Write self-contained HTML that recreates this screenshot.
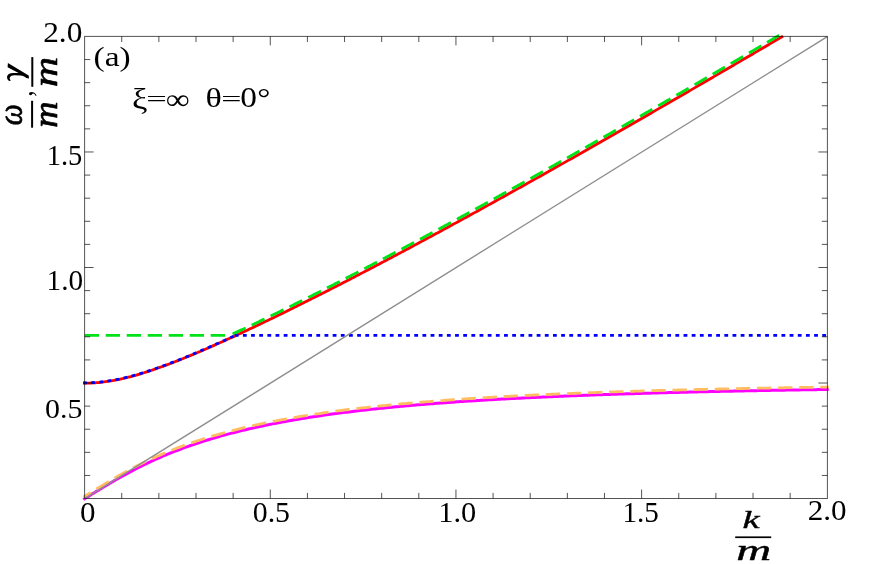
<!DOCTYPE html>
<html><head><meta charset="utf-8"><title>plot</title>
<style>html,body{margin:0;padding:0;background:#fff;}body{width:872px;height:564px;overflow:hidden;font-family:"Liberation Serif",serif;}svg{display:block;will-change:transform;}</style></head>
<body>
<svg width="872" height="564" viewBox="0 0 872 564">
<rect width="872" height="564" fill="#fff"/>
<g fill="none" stroke-linejoin="round">
<path d="M84.60,498.70 L86.46,497.54 L88.32,496.38 L90.18,495.23 L92.05,494.07 L93.91,492.92 L95.77,491.78 L97.63,490.63 L99.49,489.49 L101.35,488.36 L103.21,487.23 L105.08,486.11 L106.94,485.00 L108.80,483.89 L110.66,482.79 L112.52,481.70 L114.38,480.62 L116.24,479.55 L118.11,478.48 L119.97,477.43 L121.83,476.39 L123.69,475.35 L125.55,474.33 L127.41,473.32 L129.27,472.32 L131.14,471.33 L133.00,470.35 L134.86,469.38 L136.72,468.43 L138.58,467.48 L140.44,466.55 L142.30,465.63 L144.16,464.72 L146.03,463.82 L147.89,462.93 L149.75,462.06 L151.61,461.19 L153.47,460.34 L155.33,459.50 L157.19,458.67 L159.06,457.85 L160.92,457.04 L162.78,456.24 L164.64,455.45 L166.50,454.68 L168.36,453.91 L170.22,453.15 L172.09,452.41 L173.95,451.67 L175.81,450.95 L177.67,450.23 L179.53,449.52 L181.39,448.83 L183.25,448.14 L185.12,447.46 L186.98,446.79 L188.84,446.13 L190.70,445.48 L192.56,444.84 L194.42,444.21 L196.28,443.58 L198.15,442.97 L200.01,442.36 L201.87,441.76 L203.73,441.17 L205.59,440.58 L207.45,440.00 L209.31,439.44 L211.18,438.87 L213.04,438.32 L214.90,437.77 L216.76,437.23 L218.62,436.70 L220.48,436.18 L222.34,435.66 L224.21,435.15 L226.07,434.64 L227.93,434.14 L229.79,433.65 L231.65,433.16 L233.51,432.68 L235.37,432.21 L237.24,431.74 L239.10,431.28 L240.96,430.83 L242.82,430.38 L244.68,429.93 L246.54,429.49 L248.40,429.06 L250.26,428.63 L252.13,428.21 L253.99,427.79 L255.85,427.38 L257.71,426.97 L259.57,426.57 L261.43,426.17 L263.29,425.78 L265.16,425.39 L267.02,425.01 L268.88,424.63 L270.74,424.26 L272.60,423.89 L274.46,423.52 L276.32,423.16 L278.19,422.80 L280.05,422.45 L281.91,422.10 L283.77,421.76 L285.63,421.42 L287.49,421.09 L289.35,420.75 L291.22,420.43 L293.08,420.10 L294.94,419.78 L296.80,419.47 L298.66,419.15 L300.52,418.84 L302.38,418.54 L304.25,418.23 L306.11,417.94 L307.97,417.64 L309.83,417.35 L311.69,417.06 L313.55,416.77 L315.41,416.49 L317.28,416.21 L319.14,415.94 L321.00,415.66 L322.86,415.39 L324.72,415.13 L326.58,414.86 L328.44,414.60 L330.31,414.34 L332.17,414.09 L334.03,413.84 L335.89,413.59 L337.75,413.34 L339.61,413.10 L341.47,412.85 L343.34,412.62 L345.20,412.38 L347.06,412.14 L348.92,411.91 L350.78,411.68 L352.64,411.46 L354.50,411.23 L356.36,411.01 L358.23,410.79 L360.09,410.58 L361.95,410.36 L363.81,410.15 L365.67,409.94 L367.53,409.73 L369.39,409.53 L371.26,409.32 L373.12,409.12 L374.98,408.92 L376.84,408.72 L378.70,408.53 L380.56,408.34 L382.42,408.14 L384.29,407.95 L386.15,407.77 L388.01,407.58 L389.87,407.40 L391.73,407.22 L393.59,407.04 L395.45,406.86 L397.32,406.68 L399.18,406.51 L401.04,406.34 L402.90,406.16 L404.76,406.00 L406.62,405.83 L408.48,405.66 L410.35,405.50 L412.21,405.33 L414.07,405.17 L415.93,405.01 L417.79,404.86 L419.65,404.70 L421.51,404.55 L423.38,404.39 L425.24,404.24 L427.10,404.09 L428.96,403.94 L430.82,403.79 L432.68,403.65 L434.54,403.50 L436.41,403.36 L438.27,403.22 L440.13,403.08 L441.99,402.94 L443.85,402.80 L445.71,402.66 L447.57,402.53 L449.44,402.40 L451.30,402.26 L453.16,402.13 L455.02,402.00 L456.88,401.87 L458.74,401.75 L460.60,401.62 L462.46,401.49 L464.33,401.37 L466.19,401.25 L468.05,401.12 L469.91,401.00 L471.77,400.88 L473.63,400.77 L475.49,400.65 L477.36,400.53 L479.22,400.42 L481.08,400.30 L482.94,400.19 L484.80,400.08 L486.66,399.97 L488.52,399.86 L490.39,399.75 L492.25,399.64 L494.11,399.53 L495.97,399.42 L497.83,399.32 L499.69,399.22 L501.55,399.11 L503.42,399.01 L505.28,398.91 L507.14,398.81 L509.00,398.71 L510.86,398.61 L512.72,398.51 L514.58,398.41 L516.45,398.32 L518.31,398.22 L520.17,398.13 L522.03,398.03 L523.89,397.94 L525.75,397.85 L527.61,397.76 L529.48,397.67 L531.34,397.58 L533.20,397.49 L535.06,397.40 L536.92,397.31 L538.78,397.22 L540.64,397.14 L542.51,397.05 L544.37,396.97 L546.23,396.88 L548.09,396.80 L549.95,396.72 L551.81,396.64 L553.67,396.56 L555.54,396.48 L557.40,396.40 L559.26,396.32 L561.12,396.24 L562.98,396.16 L564.84,396.08 L566.70,396.01 L568.56,395.93 L570.43,395.86 L572.29,395.78 L574.15,395.71 L576.01,395.63 L577.87,395.56 L579.73,395.49 L581.59,395.42 L583.46,395.35 L585.32,395.28 L587.18,395.21 L589.04,395.14 L590.90,395.07 L592.76,395.00 L594.62,394.93 L596.49,394.87 L598.35,394.80 L600.21,394.73 L602.07,394.67 L603.93,394.60 L605.79,394.54 L607.65,394.47 L609.52,394.41 L611.38,394.35 L613.24,394.29 L615.10,394.22 L616.96,394.16 L618.82,394.10 L620.68,394.04 L622.55,393.98 L624.41,393.92 L626.27,393.86 L628.13,393.80 L629.99,393.75 L631.85,393.69 L633.71,393.63 L635.58,393.57 L637.44,393.52 L639.30,393.46 L641.16,393.41 L643.02,393.35 L644.88,393.30 L646.74,393.24 L648.61,393.19 L650.47,393.13 L652.33,393.08 L654.19,393.03 L656.05,392.98 L657.91,392.92 L659.77,392.87 L661.64,392.82 L663.50,392.77 L665.36,392.72 L667.22,392.67 L669.08,392.62 L670.94,392.57 L672.80,392.52 L674.66,392.47 L676.53,392.43 L678.39,392.38 L680.25,392.33 L682.11,392.28 L683.97,392.24 L685.83,392.19 L687.69,392.14 L689.56,392.10 L691.42,392.05 L693.28,392.01 L695.14,391.96 L697.00,391.92 L698.86,391.87 L700.72,391.83 L702.59,391.79 L704.45,391.74 L706.31,391.70 L708.17,391.66 L710.03,391.62 L711.89,391.57 L713.75,391.53 L715.62,391.49 L717.48,391.45 L719.34,391.41 L721.20,391.37 L723.06,391.33 L724.92,391.29 L726.78,391.25 L728.65,391.21 L730.51,391.17 L732.37,391.13 L734.23,391.09 L736.09,391.05 L737.95,391.02 L739.81,390.98 L741.68,390.94 L743.54,390.90 L745.40,390.87 L747.26,390.83 L749.12,390.79 L750.98,390.76 L752.84,390.72 L754.71,390.69 L756.57,390.65 L758.43,390.61 L760.29,390.58 L762.15,390.54 L764.01,390.51 L765.87,390.48 L767.74,390.44 L769.60,390.41 L771.46,390.37 L773.32,390.34 L775.18,390.31 L777.04,390.27 L778.90,390.24 L780.76,390.21 L782.63,390.18 L784.49,390.14 L786.35,390.11 L788.21,390.08 L790.07,390.05 L791.93,390.02 L793.79,389.99 L795.66,389.96 L797.52,389.93 L799.38,389.89 L801.24,389.86 L803.10,389.83 L804.96,389.80 L806.82,389.77 L808.69,389.75 L810.55,389.72 L812.41,389.69 L814.27,389.66 L816.13,389.63 L817.99,389.60 L819.85,389.57 L821.72,389.54 L823.58,389.52 L825.44,389.49 L827.30,389.46" stroke="#ff00ff" stroke-width="3.00" stroke-linecap="square"/>
<path d="M83.10,383.17 L84.60,383.17 L86.35,383.16 L88.10,383.13 L89.85,383.08 L91.60,383.01 L93.35,382.92 L95.09,382.81 L96.84,382.68 L98.59,382.52 L100.34,382.35 L102.09,382.16 L103.84,381.95 L105.59,381.73 L107.34,381.48 L109.09,381.22 L110.84,380.93 L112.59,380.63 L114.34,380.32 L116.08,379.99 L117.83,379.64 L119.58,379.27 L121.33,378.89 L123.08,378.50 L124.83,378.09 L126.58,377.66 L128.33,377.23 L130.08,376.78 L131.83,376.31 L133.58,375.84 L135.32,375.35 L137.07,374.85 L138.82,374.34 L140.57,373.81 L142.32,373.28 L144.07,372.74 L145.82,372.18 L147.57,371.62 L149.32,371.05 L151.07,370.46 L152.82,369.87 L154.56,369.28 L156.31,368.67 L158.06,368.05 L159.81,367.43 L161.56,366.80 L163.31,366.16 L165.06,365.52 L166.81,364.87 L168.56,364.21 L170.31,363.54 L172.06,362.87 L173.81,362.20 L175.55,361.52 L177.30,360.83 L179.05,360.14 L180.80,359.44 L182.55,358.73 L184.30,358.03 L186.05,357.31 L187.80,356.60 L189.55,355.87 L191.30,355.15 L193.05,354.42 L194.79,353.68 L196.54,352.94 L198.29,352.20 L200.04,351.46 L201.79,350.71 L203.54,349.95 L205.29,349.20 L207.04,348.43 L208.79,347.67 L210.54,346.90 L212.29,346.13 L214.04,345.36 L215.78,344.58 L217.53,343.81 L219.28,343.02 L221.03,342.24 L222.78,341.45 L224.53,340.66 L226.28,339.87 L228.03,339.07 L229.78,338.27 L231.53,337.47 L233.28,336.67 L235.02,335.87 L236.77,335.06 L238.52,334.25 L240.27,333.44 L242.02,332.62 L243.77,331.81 L245.52,330.99 L247.27,330.17 L249.02,329.35 L250.77,328.52 L252.52,327.70 L254.26,326.87 L256.01,326.04 L257.76,325.20 L259.51,324.37 L261.26,323.53 L263.01,322.70 L264.76,321.86 L266.51,321.02 L268.26,320.17 L270.01,319.33 L271.76,318.48 L273.51,317.64 L275.25,316.79 L277.00,315.94 L278.75,315.08 L280.50,314.23 L282.25,313.37 L284.00,312.52 L285.75,311.66 L287.50,310.80 L289.25,309.94 L291.00,309.07 L292.75,308.21 L294.49,307.34 L296.24,306.48 L297.99,305.61 L299.74,304.74 L301.49,303.87 L303.24,303.00 L304.99,302.12 L306.74,301.25 L308.49,300.37 L310.24,299.49 L311.99,298.61 L313.74,297.73 L315.48,296.85 L317.23,295.97 L318.98,295.09 L320.73,294.20 L322.48,293.32 L324.23,292.43 L325.98,291.54 L327.73,290.65 L329.48,289.76 L331.23,288.87 L332.98,287.97 L334.72,287.08 L336.47,286.19 L338.22,285.29 L339.97,284.39 L341.72,283.49 L343.47,282.59 L345.22,281.69 L346.97,280.79 L348.72,279.89 L350.47,278.99 L352.22,278.08 L353.96,277.17 L355.71,276.27 L357.46,275.36 L359.21,274.45 L360.96,273.54 L362.71,272.63 L364.46,271.72 L366.21,270.81 L367.96,269.89 L369.71,268.98 L371.46,268.06 L373.21,267.15 L374.95,266.23 L376.70,265.31 L378.45,264.39 L380.20,263.47 L381.95,262.55 L383.70,261.63 L385.45,260.71 L387.20,259.78 L388.95,258.86 L390.70,257.93 L392.45,257.01 L394.19,256.08 L395.94,255.15 L397.69,254.23 L399.44,253.30 L401.19,252.37 L402.94,251.43 L404.69,250.50 L406.44,249.57 L408.19,248.64 L409.94,247.70 L411.69,246.77 L413.44,245.83 L415.18,244.89 L416.93,243.96 L418.68,243.02 L420.43,242.08 L422.18,241.14 L423.93,240.20 L425.68,239.26 L427.43,238.31 L429.18,237.37 L430.93,236.43 L432.68,235.48 L434.42,234.54 L436.17,233.59 L437.92,232.65 L439.67,231.70 L441.42,230.75 L443.17,229.80 L444.92,228.85 L446.67,227.90 L448.42,226.95 L450.17,226.00 L451.92,225.05 L453.66,224.10 L455.41,223.14 L457.16,222.19 L458.91,221.23 L460.66,220.28 L462.41,219.32 L464.16,218.36 L465.91,217.41 L467.66,216.45 L469.41,215.49 L471.16,214.53 L472.91,213.57 L474.65,212.61 L476.40,211.65 L478.15,210.69 L479.90,209.72 L481.65,208.76 L483.40,207.80 L485.15,206.83 L486.90,205.87 L488.65,204.90 L490.40,203.94 L492.15,202.97 L493.89,202.00 L495.64,201.03 L497.39,200.07 L499.14,199.10 L500.89,198.13 L502.64,197.16 L504.39,196.19 L506.14,195.22 L507.89,194.24 L509.64,193.27 L511.39,192.30 L513.14,191.32 L514.88,190.35 L516.63,189.38 L518.38,188.40 L520.13,187.42 L521.88,186.45 L523.63,185.47 L525.38,184.49 L527.13,183.52 L528.88,182.54 L530.63,181.56 L532.38,180.58 L534.12,179.60 L535.87,178.62 L537.62,177.64 L539.37,176.66 L541.12,175.67 L542.87,174.69 L544.62,173.71 L546.37,172.73 L548.12,171.74 L549.87,170.76 L551.62,169.77 L553.36,168.79 L555.11,167.80 L556.86,166.81 L558.61,165.83 L560.36,164.84 L562.11,163.85 L563.86,162.86 L565.61,161.88 L567.36,160.89 L569.11,159.90 L570.86,158.91 L572.61,157.92 L574.35,156.93 L576.10,155.93 L577.85,154.94 L579.60,153.95 L581.35,152.96 L583.10,151.97 L584.85,150.97 L586.60,149.98 L588.35,148.98 L590.10,147.99 L591.85,146.99 L593.59,146.00 L595.34,145.00 L597.09,144.00 L598.84,143.01 L600.59,142.01 L602.34,141.01 L604.09,140.01 L605.84,139.02 L607.59,138.02 L609.34,137.02 L611.09,136.02 L612.84,135.02 L614.58,134.02 L616.33,133.02 L618.08,132.02 L619.83,131.01 L621.58,130.01 L623.33,129.01 L625.08,128.01 L626.83,127.00 L628.58,126.00 L630.33,125.00 L632.08,123.99 L633.82,122.99 L635.57,121.98 L637.32,120.98 L639.07,119.97 L640.82,118.96 L642.57,117.96 L644.32,116.95 L646.07,115.94 L647.82,114.94 L649.57,113.93 L651.32,112.92 L653.06,111.91 L654.81,110.90 L656.56,109.89 L658.31,108.88 L660.06,107.88 L661.81,106.86 L663.56,105.85 L665.31,104.84 L667.06,103.83 L668.81,102.82 L670.56,101.81 L672.31,100.80 L674.05,99.78 L675.80,98.77 L677.55,97.76 L679.30,96.74 L681.05,95.73 L682.80,94.72 L684.55,93.70 L686.30,92.69 L688.05,91.67 L689.80,90.66 L691.55,89.64 L693.29,88.63 L695.04,87.61 L696.79,86.59 L698.54,85.58 L700.29,84.56 L702.04,83.54 L703.79,82.52 L705.54,81.51 L707.29,80.49 L709.04,79.47 L710.79,78.45 L712.54,77.43 L714.28,76.41 L716.03,75.39 L717.78,74.37 L719.53,73.35 L721.28,72.33 L723.03,71.31 L724.78,70.29 L726.53,69.27 L728.28,68.25 L730.03,67.22 L731.78,66.20 L733.52,65.18 L735.27,64.16 L737.02,63.13 L738.77,62.11 L740.52,61.09 L742.27,60.06 L744.02,59.04 L745.77,58.02 L747.52,56.99 L749.27,55.97 L751.02,54.94 L752.76,53.92 L754.51,52.89 L756.26,51.87 L758.01,50.84 L759.76,49.81 L761.51,48.79 L763.26,47.76 L765.01,46.73 L766.76,45.71 L768.51,44.68 L770.26,43.65 L772.01,42.62 L773.75,41.59 L775.50,40.57 L777.25,39.54 L779.00,38.51 L780.75,37.48 L782.50,36.45 L783.02,36.15" stroke="#ff0000" stroke-width="2.80"/>
<path d="M83.10,335.32 L229.74,335.32" stroke="#00e218" stroke-width="2.85" stroke-dasharray="14.3 6.7" stroke-dashoffset="-1.60"/>
<path d="M229.74,335.32 L229.81,335.29 L230.86,334.81 L231.92,334.32 L232.98,333.84 L234.04,333.35 L235.10,332.86 L236.16,332.37 L237.21,331.88 L238.27,331.39 L239.33,330.90 L240.39,330.41 L241.45,329.91 L242.50,329.42 L243.56,328.92 L244.62,328.43 L245.68,327.93 L246.74,327.43 L247.80,326.94 L248.85,326.44 L249.91,325.94 L250.97,325.44 L252.03,324.94 L253.09,324.44 L254.15,323.93 L255.20,323.43 L256.26,322.93 L257.32,322.42 L258.38,321.92 L259.44,321.41 L260.50,320.91 L261.56,320.40 L262.61,319.89 L263.67,319.38 L264.73,318.88 L265.79,318.37 L266.85,317.86 L267.91,317.35 L268.97,316.83 L270.02,316.32 L271.08,315.81 L272.14,315.30 L273.20,314.78 L274.26,314.27 L275.32,313.75 L276.38,313.24 L277.43,312.72 L278.49,312.21 L279.55,311.69 L280.61,311.17 L281.67,310.65 L282.73,310.13 L283.79,309.61 L284.85,309.09 L285.90,308.57 L286.96,308.05 L288.02,307.53 L289.08,307.01 L290.14,306.49 L291.20,305.96 L292.26,305.44 L293.32,304.92 L294.37,304.39 L295.43,303.87 L296.49,303.34 L297.55,302.81 L298.61,302.29 L299.67,301.76 L300.73,301.23 L301.79,300.70 L302.84,300.18 L303.90,299.65 L304.96,299.12 L306.02,298.59 L307.08,298.06 L308.14,297.52 L309.20,296.99 L310.26,296.46 L311.32,295.93 L312.37,295.40 L313.43,294.86 L314.49,294.33 L315.55,293.79 L316.61,293.26 L317.67,292.73 L318.73,292.19 L319.79,291.65 L320.85,291.12 L321.90,290.58 L322.96,290.04 L324.02,289.51 L325.08,288.97 L326.14,288.43 L327.20,287.89 L328.26,287.35 L329.32,286.81 L330.38,286.27 L331.44,285.73 L332.49,285.19 L333.55,284.65 L334.61,284.10 L335.67,283.56 L336.73,283.02 L337.79,282.48 L338.85,281.93 L339.91,281.39 L340.97,280.85 L342.03,280.30 L343.08,279.76 L344.14,279.21 L345.20,278.66 L346.26,278.12 L347.32,277.57 L348.38,277.02 L349.44,276.48 L350.50,275.93 L351.56,275.38 L352.62,274.83 L353.68,274.28 L354.73,273.73 L355.79,273.19 L356.85,272.64 L357.91,272.09 L358.97,271.53 L360.03,270.98 L361.09,270.43 L362.15,269.88 L363.21,269.33 L364.27,268.78 L365.32,268.22 L366.38,267.67 L367.44,267.12 L368.50,266.56 L369.56,266.01 L370.62,265.45 L371.68,264.90 L372.74,264.34 L373.80,263.79 L374.86,263.23 L375.92,262.68 L376.98,262.12 L378.03,261.56 L379.09,261.01 L380.15,260.45 L381.21,259.89 L382.27,259.33 L383.33,258.77 L384.39,258.21 L385.45,257.66 L386.51,257.10 L387.57,256.54 L388.63,255.98 L389.68,255.42 L390.74,254.85 L391.80,254.29 L392.86,253.73 L393.92,253.17 L394.98,252.61 L396.04,252.05 L397.10,251.48 L398.16,250.92 L399.22,250.36 L400.28,249.79 L401.34,249.23 L402.40,248.67 L403.45,248.10 L404.51,247.54 L405.57,246.97 L406.63,246.41 L407.69,245.84 L408.75,245.27 L409.81,244.71 L410.87,244.14 L411.93,243.57 L412.99,243.01 L414.05,242.44 L415.11,241.87 L416.16,241.30 L417.22,240.74 L418.28,240.17 L419.34,239.60 L420.40,239.03 L421.46,238.46 L422.52,237.89 L423.58,237.32 L424.64,236.75 L425.70,236.18 L426.76,235.61 L427.82,235.04 L428.88,234.47 L429.93,233.89 L430.99,233.32 L432.05,232.75 L433.11,232.18 L434.17,231.61 L435.23,231.03 L436.29,230.46 L437.35,229.89 L438.41,229.31 L439.47,228.74 L440.53,228.16 L441.59,227.59 L442.65,227.01 L443.71,226.44 L444.76,225.86 L445.82,225.29 L446.88,224.71 L447.94,224.14 L449.00,223.56 L450.06,222.98 L451.12,222.41 L452.18,221.83 L453.24,221.25 L454.30,220.68 L455.36,220.10 L456.42,219.52 L457.48,218.94 L458.54,218.36 L459.59,217.78 L460.65,217.20 L461.71,216.63 L462.77,216.05 L463.83,215.47 L464.89,214.89 L465.95,214.31 L467.01,213.73 L468.07,213.15 L469.13,212.56 L470.19,211.98 L471.25,211.40 L472.31,210.82 L473.37,210.24 L474.42,209.66 L475.48,209.07 L476.54,208.49 L477.60,207.91 L478.66,207.33 L479.72,206.74 L480.78,206.16 L481.84,205.57 L482.90,204.99 L483.96,204.41 L485.02,203.82 L486.08,203.24 L487.14,202.65 L488.20,202.07 L489.26,201.48 L490.31,200.90 L491.37,200.31 L492.43,199.73 L493.49,199.14 L494.55,198.55 L495.61,197.97 L496.67,197.38 L497.73,196.79 L498.79,196.21 L499.85,195.62 L500.91,195.03 L501.97,194.44 L503.03,193.85 L504.09,193.27 L505.15,192.68 L506.21,192.09 L507.26,191.50 L508.32,190.91 L509.38,190.32 L510.44,189.73 L511.50,189.14 L512.56,188.55 L513.62,187.96 L514.68,187.37 L515.74,186.78 L516.80,186.19 L517.86,185.60 L518.92,185.01 L519.98,184.42 L521.04,183.83 L522.10,183.24 L523.16,182.64 L524.21,182.05 L525.27,181.46 L526.33,180.87 L527.39,180.27 L528.45,179.68 L529.51,179.09 L530.57,178.50 L531.63,177.90 L532.69,177.31 L533.75,176.71 L534.81,176.12 L535.87,175.53 L536.93,174.93 L537.99,174.34 L539.05,173.74 L540.11,173.15 L541.17,172.55 L542.22,171.96 L543.28,171.36 L544.34,170.77 L545.40,170.17 L546.46,169.58 L547.52,168.98 L548.58,168.38 L549.64,167.79 L550.70,167.19 L551.76,166.59 L552.82,166.00 L553.88,165.40 L554.94,164.80 L556.00,164.20 L557.06,163.61 L558.12,163.01 L559.18,162.41 L560.23,161.81 L561.29,161.21 L562.35,160.61 L563.41,160.02 L564.47,159.42 L565.53,158.82 L566.59,158.22 L567.65,157.62 L568.71,157.02 L569.77,156.42 L570.83,155.82 L571.89,155.22 L572.95,154.62 L574.01,154.02 L575.07,153.42 L576.13,152.82 L577.19,152.22 L578.25,151.62 L579.30,151.01 L580.36,150.41 L581.42,149.81 L582.48,149.21 L583.54,148.61 L584.60,148.01 L585.66,147.40 L586.72,146.80 L587.78,146.20 L588.84,145.60 L589.90,144.99 L590.96,144.39 L592.02,143.79 L593.08,143.18 L594.14,142.58 L595.20,141.98 L596.26,141.37 L597.32,140.77 L598.37,140.17 L599.43,139.56 L600.49,138.96 L601.55,138.35 L602.61,137.75 L603.67,137.14 L604.73,136.54 L605.79,135.93 L606.85,135.33 L607.91,134.72 L608.97,134.12 L610.03,133.51 L611.09,132.91 L612.15,132.30 L613.21,131.69 L614.27,131.09 L615.33,130.48 L616.39,129.88 L617.45,129.27 L618.50,128.66 L619.56,128.06 L620.62,127.45 L621.68,126.84 L622.74,126.23 L623.80,125.63 L624.86,125.02 L625.92,124.41 L626.98,123.80 L628.04,123.20 L629.10,122.59 L630.16,121.98 L631.22,121.37 L632.28,120.76 L633.34,120.15 L634.40,119.54 L635.46,118.94 L636.52,118.33 L637.58,117.72 L638.64,117.11 L639.69,116.50 L640.75,115.89 L641.81,115.28 L642.87,114.67 L643.93,114.06 L644.99,113.45 L646.05,112.84 L647.11,112.23 L648.17,111.62 L649.23,111.01 L650.29,110.40 L651.35,109.79 L652.41,109.17 L653.47,108.56 L654.53,107.95 L655.59,107.34 L656.65,106.73 L657.71,106.12 L658.77,105.51 L659.83,104.89 L660.89,104.28 L661.94,103.67 L663.00,103.06 L664.06,102.44 L665.12,101.83 L666.18,101.22 L667.24,100.61 L668.30,99.99 L669.36,99.38 L670.42,98.77 L671.48,98.15 L672.54,97.54 L673.60,96.93 L674.66,96.31 L675.72,95.70 L676.78,95.09 L677.84,94.47 L678.90,93.86 L679.96,93.24 L681.02,92.63 L682.08,92.02 L683.13,91.40 L684.19,90.79 L685.25,90.17 L686.31,89.56 L687.37,88.94 L688.43,88.33 L689.49,87.71 L690.55,87.10 L691.61,86.48 L692.67,85.87 L693.73,85.25 L694.79,84.63 L695.85,84.02 L696.91,83.40 L697.97,82.79 L699.03,82.17 L700.09,81.55 L701.15,80.94 L702.21,80.32 L703.27,79.70 L704.33,79.09 L705.39,78.47 L706.44,77.85 L707.50,77.24 L708.56,76.62 L709.62,76.00 L710.68,75.39 L711.74,74.77 L712.80,74.15 L713.86,73.53 L714.92,72.92 L715.98,72.30 L717.04,71.68 L718.10,71.06 L719.16,70.44 L720.22,69.82 L721.28,69.21 L722.34,68.59 L723.40,67.97 L724.46,67.35 L725.52,66.73 L726.58,66.11 L727.64,65.49 L728.70,64.88 L729.75,64.26 L730.81,63.64 L731.87,63.02 L732.93,62.40 L733.99,61.78 L735.05,61.16 L736.11,60.54 L737.17,59.92 L738.23,59.30 L739.29,58.68 L740.35,58.06 L741.41,57.44 L742.47,56.82 L743.53,56.20 L744.59,55.58 L745.65,54.96 L746.71,54.34 L747.77,53.72 L748.83,53.09 L749.89,52.47 L750.95,51.85 L752.01,51.23 L753.07,50.61 L754.12,49.99 L755.18,49.37 L756.24,48.75 L757.30,48.12 L758.36,47.50 L759.42,46.88 L760.48,46.26 L761.54,45.64 L762.60,45.02 L763.66,44.39 L764.72,43.77 L765.78,43.15 L766.84,42.53 L767.90,41.90 L768.96,41.28 L770.02,40.66 L771.08,40.04 L772.14,39.41 L773.20,38.79 L774.26,38.17 L775.32,37.54 L776.38,36.92 L777.18,36.45 L779.16,35.28" stroke="#00e218" stroke-width="2.85" stroke-dasharray="14.3 6.7" stroke-dashoffset="17.84"/>
<path d="M83.33,497.09 L84.60,496.30 L86.46,495.14 L88.32,493.98 L90.18,492.83 L92.05,491.67 L93.91,490.52 L95.77,489.38 L97.63,488.23 L99.49,487.09 L101.35,485.96 L103.21,484.83 L105.08,483.71 L106.94,482.60 L108.80,481.49 L110.66,480.39 L112.52,479.30 L114.38,478.22 L116.24,477.15 L118.11,476.08 L119.97,475.03 L121.83,473.99 L123.69,472.95 L125.55,471.93 L127.41,470.92 L129.27,469.92 L131.14,468.93 L133.00,467.95 L134.86,466.98 L136.72,466.03 L138.58,465.08 L140.44,464.15 L142.30,463.23 L144.16,462.32 L146.03,461.42 L147.89,460.53 L149.75,459.66 L151.61,458.79 L153.47,457.94 L155.33,457.10 L157.19,456.27 L159.06,455.45 L160.92,454.64 L162.78,453.84 L164.64,453.05 L166.50,452.28 L168.36,451.51 L170.22,450.75 L172.09,450.01 L173.95,449.27 L175.81,448.55 L177.67,447.83 L179.53,447.12 L181.39,446.43 L183.25,445.74 L185.12,445.06 L186.98,444.39 L188.84,443.73 L190.70,443.08 L192.56,442.44 L194.42,441.81 L196.28,441.18 L198.15,440.57 L200.01,439.96 L201.87,439.36 L203.73,438.77 L205.59,438.18 L207.45,437.60 L209.31,437.04 L211.18,436.47 L213.04,435.92 L214.90,435.37 L216.76,434.83 L218.62,434.30 L220.48,433.78 L222.34,433.26 L224.21,432.75 L226.07,432.24 L227.93,431.74 L229.79,431.25 L231.65,430.76 L233.51,430.28 L235.37,429.81 L237.24,429.34 L239.10,428.88 L240.96,428.43 L242.82,427.98 L244.68,427.53 L246.54,427.09 L248.40,426.66 L250.26,426.23 L252.13,425.81 L253.99,425.39 L255.85,424.98 L257.71,424.57 L259.57,424.17 L261.43,423.77 L263.29,423.38 L265.16,422.99 L267.02,422.61 L268.88,422.23 L270.74,421.86 L272.60,421.49 L274.46,421.12 L276.32,420.76 L278.19,420.40 L280.05,420.05 L281.91,419.70 L283.77,419.36 L285.63,419.02 L287.49,418.69 L289.35,418.35 L291.22,418.03 L293.08,417.70 L294.94,417.38 L296.80,417.07 L298.66,416.75 L300.52,416.44 L302.38,416.14 L304.25,415.83 L306.11,415.54 L307.97,415.24 L309.83,414.95 L311.69,414.66 L313.55,414.37 L315.41,414.09 L317.28,413.81 L319.14,413.54 L321.00,413.26 L322.86,412.99 L324.72,412.73 L326.58,412.46 L328.44,412.20 L330.31,411.94 L332.17,411.69 L334.03,411.44 L335.89,411.19 L337.75,410.94 L339.61,410.70 L341.47,410.45 L343.34,410.22 L345.20,409.98 L347.06,409.74 L348.92,409.51 L350.78,409.28 L352.64,409.06 L354.50,408.83 L356.36,408.61 L358.23,408.39 L360.09,408.18 L361.95,407.96 L363.81,407.75 L365.67,407.54 L367.53,407.33 L369.39,407.13 L371.26,406.92 L373.12,406.72 L374.98,406.52 L376.84,406.32 L378.70,406.13 L380.56,405.94 L382.42,405.74 L384.29,405.55 L386.15,405.37 L388.01,405.18 L389.87,405.00 L391.73,404.82 L393.59,404.64 L395.45,404.46 L397.32,404.28 L399.18,404.11 L401.04,403.94 L402.90,403.76 L404.76,403.60 L406.62,403.43 L408.48,403.26 L410.35,403.10 L412.21,402.93 L414.07,402.77 L415.93,402.61 L417.79,402.46 L419.65,402.30 L421.51,402.15 L423.38,401.99 L425.24,401.84 L427.10,401.69 L428.96,401.54 L430.82,401.39 L432.68,401.25 L434.54,401.10 L436.41,400.96 L438.27,400.82 L440.13,400.68 L441.99,400.54 L443.85,400.40 L445.71,400.26 L447.57,400.13 L449.44,400.00 L451.30,399.86 L453.16,399.73 L455.02,399.60 L456.88,399.47 L458.74,399.35 L460.60,399.22 L462.46,399.09 L464.33,398.97 L466.19,398.85 L468.05,398.72 L469.91,398.60 L471.77,398.48 L473.63,398.37 L475.49,398.25 L477.36,398.13 L479.22,398.02 L481.08,397.90 L482.94,397.79 L484.80,397.68 L486.66,397.57 L488.52,397.46 L490.39,397.35 L492.25,397.24 L494.11,397.13 L495.97,397.02 L497.83,396.92 L499.69,396.82 L501.55,396.71 L503.42,396.61 L505.28,396.51 L507.14,396.41 L509.00,396.31 L510.86,396.21 L512.72,396.11 L514.58,396.01 L516.45,395.92 L518.31,395.82 L520.17,395.73 L522.03,395.63 L523.89,395.54 L525.75,395.45 L527.61,395.36 L529.48,395.27 L531.34,395.18 L533.20,395.09 L535.06,395.00 L536.92,394.91 L538.78,394.82 L540.64,394.74 L542.51,394.65 L544.37,394.57 L546.23,394.48 L548.09,394.40 L549.95,394.32 L551.81,394.24 L553.67,394.16 L555.54,394.08 L557.40,394.00 L559.26,393.92 L561.12,393.84 L562.98,393.76 L564.84,393.68 L566.70,393.61 L568.56,393.53 L570.43,393.46 L572.29,393.38 L574.15,393.31 L576.01,393.23 L577.87,393.16 L579.73,393.09 L581.59,393.02 L583.46,392.95 L585.32,392.88 L587.18,392.81 L589.04,392.74 L590.90,392.67 L592.76,392.60 L594.62,392.53 L596.49,392.47 L598.35,392.40 L600.21,392.33 L602.07,392.27 L603.93,392.20 L605.79,392.14 L607.65,392.07 L609.52,392.01 L611.38,391.95 L613.24,391.89 L615.10,391.82 L616.96,391.76 L618.82,391.70 L620.68,391.64 L622.55,391.58 L624.41,391.52 L626.27,391.46 L628.13,391.40 L629.99,391.35 L631.85,391.29 L633.71,391.23 L635.58,391.17 L637.44,391.12 L639.30,391.06 L641.16,391.01 L643.02,390.95 L644.88,390.90 L646.74,390.84 L648.61,390.79 L650.47,390.73 L652.33,390.68 L654.19,390.63 L656.05,390.58 L657.91,390.52 L659.77,390.47 L661.64,390.42 L663.50,390.37 L665.36,390.32 L667.22,390.27 L669.08,390.22 L670.94,390.17 L672.80,390.12 L674.66,390.07 L676.53,390.03 L678.39,389.98 L680.25,389.93 L682.11,389.88 L683.97,389.84 L685.83,389.79 L687.69,389.74 L689.56,389.70 L691.42,389.65 L693.28,389.61 L695.14,389.56 L697.00,389.52 L698.86,389.47 L700.72,389.43 L702.59,389.39 L704.45,389.34 L706.31,389.30 L708.17,389.26 L710.03,389.22 L711.89,389.17 L713.75,389.13 L715.62,389.09 L717.48,389.05 L719.34,389.01 L721.20,388.97 L723.06,388.93 L724.92,388.89 L726.78,388.85 L728.65,388.81 L730.51,388.77 L732.37,388.73 L734.23,388.69 L736.09,388.65 L737.95,388.62 L739.81,388.58 L741.68,388.54 L743.54,388.50 L745.40,388.47 L747.26,388.43 L749.12,388.39 L750.98,388.36 L752.84,388.32 L754.71,388.29 L756.57,388.25 L758.43,388.21 L760.29,388.18 L762.15,388.14 L764.01,388.11 L765.87,388.08 L767.74,388.04 L769.60,388.01 L771.46,387.97 L773.32,387.94 L775.18,387.91 L777.04,387.87 L778.90,387.84 L780.76,387.81 L782.63,387.78 L784.49,387.74 L786.35,387.71 L788.21,387.68 L790.07,387.65 L791.93,387.62 L793.79,387.59 L795.66,387.56 L797.52,387.53 L799.38,387.49 L801.24,387.46 L803.10,387.43 L804.96,387.40 L806.82,387.37 L808.69,387.35 L810.55,387.32 L812.41,387.29 L814.27,387.26 L816.13,387.23 L817.99,387.20 L819.85,387.17 L821.72,387.14 L823.58,387.12 L825.44,387.09 L827.30,387.06 L828.80,387.06" stroke="#ffbd62" stroke-width="2.80" stroke-dasharray="14.4 6.72" stroke-dashoffset="5.71"/>
<path d="M83.10,382.88 L84.60,382.88 L86.13,382.87 L87.66,382.84 L89.18,382.80 L90.71,382.75 L92.24,382.68 L93.77,382.59 L95.30,382.49 L96.83,382.38 L98.35,382.24 L99.88,382.10 L101.41,381.94 L102.94,381.76 L104.47,381.57 L106.00,381.37 L107.53,381.15 L109.06,380.92 L110.58,380.67 L112.11,380.41 L113.64,380.14 L115.17,379.86 L116.70,379.56 L118.23,379.25 L119.76,378.93 L121.29,378.59 L122.82,378.25 L124.35,377.89 L125.88,377.53 L127.40,377.15 L128.93,376.76 L130.46,376.36 L131.99,375.96 L133.52,375.54 L135.05,375.11 L136.58,374.68 L138.11,374.23 L139.64,373.78 L141.17,373.32 L142.70,372.85 L144.23,372.37 L145.76,371.89 L147.29,371.39 L148.82,370.89 L150.35,370.39 L151.88,369.87 L153.41,369.35 L154.94,368.83 L156.47,368.29 L158.00,367.75 L159.53,367.21 L161.07,366.66 L162.60,366.10 L164.13,365.54 L165.66,364.98 L167.19,364.40 L168.72,363.83 L170.25,363.24 L171.78,362.66 L173.31,362.07 L174.84,361.47 L176.37,360.87 L177.90,360.27 L179.43,359.66 L180.96,359.05 L182.49,358.43 L184.02,357.81 L185.56,357.19 L187.09,356.56 L188.62,355.93 L190.15,355.30 L191.68,354.66 L193.21,354.02 L194.74,353.38 L196.27,352.73 L197.80,352.08 L199.33,351.43 L200.86,350.78 L202.39,350.12 L203.93,349.46 L205.46,348.80 L206.99,348.13 L208.52,347.46 L210.05,346.79 L211.58,346.12 L213.11,345.44 L214.64,344.76 L216.17,344.08 L217.70,343.40 L219.24,342.72 L220.77,342.03 L222.30,341.34 L223.83,340.65 L225.36,339.96 L226.89,339.26 L228.42,338.56 L229.95,337.86 L231.48,337.16 L233.02,336.46 L234.55,335.76 L236.08,335.05" stroke="#0000ff" stroke-width="2.75" stroke-dasharray="3.8 4.36" stroke-dashoffset="-0.05"/>
<path d="M234.70,335.32 L828.80,335.32" stroke="#0000ff" stroke-width="2.75" stroke-dasharray="3.8 4.36" stroke-dashoffset="-0.05"/>
<path d="M84.60,498.70 L827.30,36.60" stroke="#8e8e8e" stroke-width="1.40"/>
</g>
<g stroke="#000" stroke-opacity="0.67" stroke-width="1" fill="none">
<rect x="84.60" y="36.40" width="742.80" height="462.10"/>
<path d="M121.73,498.50 v-5.60 M121.73,36.40 v5.60 M84.60,475.44 h5.60 M827.40,475.44 h-5.60 M158.87,498.50 v-5.60 M158.87,36.40 v5.60 M84.60,452.34 h5.60 M827.40,452.34 h-5.60 M196.00,498.50 v-5.60 M196.00,36.40 v5.60 M84.60,429.24 h5.60 M827.40,429.24 h-5.60 M233.14,498.50 v-5.60 M233.14,36.40 v5.60 M84.60,406.13 h5.60 M827.40,406.13 h-5.60 M270.27,498.50 v-9.00 M270.27,36.40 v9.00 M84.60,383.02 h9.00 M827.40,383.02 h-9.00 M307.41,498.50 v-5.60 M307.41,36.40 v5.60 M84.60,359.92 h5.60 M827.40,359.92 h-5.60 M344.54,498.50 v-5.60 M344.54,36.40 v5.60 M84.60,336.81 h5.60 M827.40,336.81 h-5.60 M381.68,498.50 v-5.60 M381.68,36.40 v5.60 M84.60,313.71 h5.60 M827.40,313.71 h-5.60 M418.81,498.50 v-5.60 M418.81,36.40 v5.60 M84.60,290.61 h5.60 M827.40,290.61 h-5.60 M455.95,498.50 v-9.00 M455.95,36.40 v9.00 M84.60,267.50 h9.00 M827.40,267.50 h-9.00 M493.09,498.50 v-5.60 M493.09,36.40 v5.60 M84.60,244.39 h5.60 M827.40,244.39 h-5.60 M530.22,498.50 v-5.60 M530.22,36.40 v5.60 M84.60,221.29 h5.60 M827.40,221.29 h-5.60 M567.36,498.50 v-5.60 M567.36,36.40 v5.60 M84.60,198.19 h5.60 M827.40,198.19 h-5.60 M604.49,498.50 v-5.60 M604.49,36.40 v5.60 M84.60,175.08 h5.60 M827.40,175.08 h-5.60 M641.62,498.50 v-9.00 M641.62,36.40 v9.00 M84.60,151.97 h9.00 M827.40,151.97 h-9.00 M678.76,498.50 v-5.60 M678.76,36.40 v5.60 M84.60,128.87 h5.60 M827.40,128.87 h-5.60 M715.89,498.50 v-5.60 M715.89,36.40 v5.60 M84.60,105.76 h5.60 M827.40,105.76 h-5.60 M753.03,498.50 v-5.60 M753.03,36.40 v5.60 M84.60,82.66 h5.60 M827.40,82.66 h-5.60 M790.16,498.50 v-5.60 M790.16,36.40 v5.60 M84.60,59.55 h5.60 M827.40,59.55 h-5.60"/>
</g>
<g font-family="'Liberation Serif', serif" fill="#000000">
<text transform="translate(43.14,42.02) scale(0.3135,0.2853)" font-size="100">2.0</text>
<text transform="translate(46.66,165.02) scale(0.2851,0.2874)" font-size="100">1.5</text>
<text transform="translate(46.59,289.92) scale(0.2924,0.2838)" font-size="100">1.0</text>
<text transform="translate(44.93,417.83) scale(0.2994,0.2824)" font-size="100">0.5</text>
<text transform="translate(79.89,521.97) scale(0.3106,0.2844)" font-size="100">0</text>
<text transform="translate(252.73,522.02) scale(0.2985,0.2853)" font-size="100">0.5</text>
<text transform="translate(438.29,522.02) scale(0.3040,0.2853)" font-size="100">1.0</text>
<text transform="translate(622.50,522.02) scale(0.2913,0.2874)" font-size="100">1.5</text>
<text transform="translate(807.65,520.42) scale(0.3109,0.2853)" font-size="100">2.0</text>
<text transform="translate(93.54,66.49) scale(0.3353,0.2807)" font-size="100">(a)</text>
<text transform="translate(132.09,108.64) scale(0.3470,0.2865)" font-size="100">ξ</text>
<text transform="translate(146.32,106.07) scale(0.3656,0.2080)" font-size="100">=</text>
<text transform="translate(165.67,108.74) scale(0.3404,0.2895)" font-size="100">∞</text>
<text transform="translate(205.53,107.47) scale(0.3410,0.2775)" font-size="100">θ</text>
<text transform="translate(221.25,105.88) scale(0.3591,0.2040)" font-size="100">=</text>
<text transform="translate(240.30,107.46) scale(0.3341,0.2919)" font-size="100">0</text>
<text transform="translate(257.20,106.82) scale(0.3273,0.2777)" font-size="100">°</text>
<text transform="translate(742.44,528.00) scale(0.3860,0.2489)" font-size="100" font-style="italic" stroke="#000" stroke-width="1.61" stroke-linejoin="round">k</text>
<text transform="translate(736.28,559.80) scale(0.4840,0.2915)" font-size="100" font-style="italic" stroke="#000" stroke-width="1.33" stroke-linejoin="round">m</text>
<rect x="735.2" y="536.4" width="36" height="1.7"/>
<text fill="none" transform="translate(21.91,81.42) rotate(-90) scale(0.4428,0.3173)" font-size="100" font-style="italic">γ</text>
<path d="M7.9,63.0 L28.7,75.5 L29.0,78.5 L26.4,77.9 C24.5,76.6 22.8,75.7 20.5,75.55 L14.5,75.3 C12,75.4 10.6,76.1 9.9,77.4 C9.4,78.5 9.9,79.6 10.9,80.4 L9.3,81.1 C7.7,80.1 6.9,78.5 7.05,76.7 C7.3,74.5 9.5,73.2 13.4,73.0 L18.6,72.9 L7.6,67.2 Z"/>
<text transform="translate(57.30,86.96) rotate(-90) scale(0.4171,0.3319)" font-size="100" font-style="italic" stroke="#000" stroke-width="1.88" stroke-linejoin="round">m</text>
<rect x="31.3" y="57.1" width="2.0" height="29.7"/>
<text transform="translate(22.36,125.27) rotate(-90) scale(0.2984,0.3372)" font-size="100" font-style="italic" stroke="#000" stroke-width="2.21" stroke-linejoin="round">ω</text>
<text transform="translate(57.30,127.67) rotate(-90) scale(0.3642,0.3319)" font-size="100" font-style="italic" stroke="#000" stroke-width="2.01" stroke-linejoin="round">m</text>
<rect x="31.1" y="100.8" width="2.0" height="26.9"/>
<text transform="translate(32.22,96.73) rotate(-90) scale(0.2600,0.2902)" font-size="100">,</text>
</g>
</svg>
</body></html>
